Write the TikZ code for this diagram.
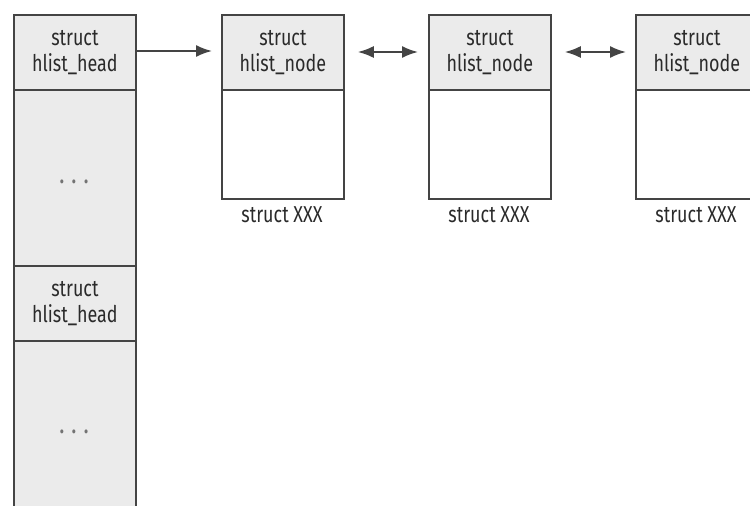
\documentclass[tikz,border=0pt]{standalone}
\usepackage{fontspec}
\setmainfont[FakeStretch=0.78]{Fira Sans}
\usetikzlibrary{arrows.meta}
\definecolor{boxgray}{HTML}{EBEBEB}
\definecolor{linegray}{HTML}{444444}
\definecolor{txtgray}{HTML}{2A2A2A}
\begin{document}
\begin{tikzpicture}[x=1pt,y=-1pt,
  cell/.style={draw=linegray,line width=1.8pt,fill=boxgray,anchor=north west,
    minimum width=122pt,inner sep=0pt,align=center,text=txtgray,
    font=\fontsize{23}{26}\selectfont},
  body/.style={cell,fill=white},
  caption/.style={text=txtgray,font=\fontsize{23}{26}\selectfont,inner sep=0pt},
  dotstext/.style={text=gray!90!black,font=\fontsize{22}{26}\selectfont\bfseries},
  link/.style={draw=linegray,line width=1.8pt,-{Latex[length=16pt,width=12pt]}},
  dlink/.style={draw=linegray,line width=1.8pt,{Latex[length=16pt,width=12pt]}-{Latex[length=16pt,width=12pt]}}]
\useasboundingbox (0,0) rectangle (750,506);
\begin{scope}
\clip (0,0) rectangle (750,506);
% left column
\node[cell,minimum height=75pt] (head1) at (13,14) {struct\\hlist\_head};
\node[cell,minimum height=176pt] (dots1) at (13,89) {};
\node[cell,minimum height=75pt] (head2) at (13,265) {struct\\hlist\_head};
\node[cell,minimum height=190pt] (dots2) at (13,340) {};
\node[dotstext] (d1) at (74,182) {.\hspace{8pt}.\hspace{8pt}.};
\node[dotstext] (d2) at (74,432) {.\hspace{8pt}.\hspace{8pt}.};
% hlist nodes
\foreach \i/\x in {1/221,2/428,3/635}{
  \node[cell,minimum height=75pt] (n\i) at (\x,14) {struct\\hlist\_node};
  \node[body,minimum height=109pt] (b\i) at (\x,89) {};
  \node[caption] (c\i) at (\x+61,215) {struct XXX};
}
\end{scope}
\draw[link,shorten >=9pt] (head1.east |- 0,51) -- (n1.west |- 0,51);
\draw[dlink,shorten <=13pt,shorten >=10pt] (n1.east |- 0,52) -- (n2.west |- 0,52);
\draw[dlink,shorten <=13pt,shorten >=9pt] (n2.east |- 0,52) -- (n3.west |- 0,52);
\end{tikzpicture}
\end{document}
